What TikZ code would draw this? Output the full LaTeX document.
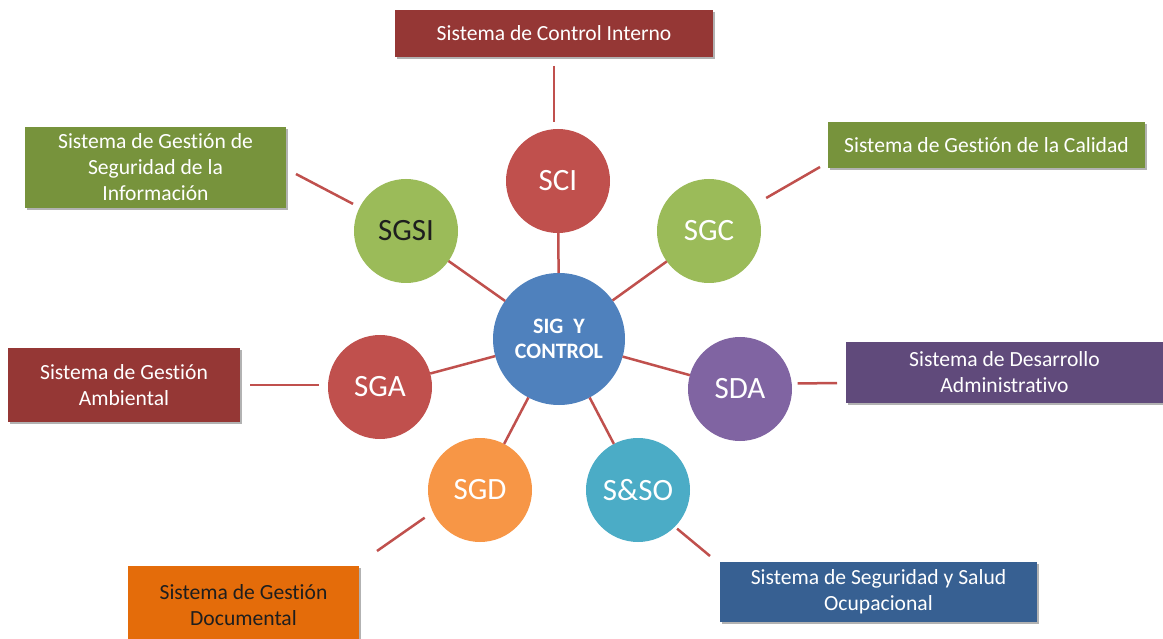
\documentclass[tikz,border=0pt]{standalone}
\usepackage{fontspec}
\setmainfont{Carlito}[Ligatures={NoCommon,NoContextual},Contextuals=NoAlternate]
\usetikzlibrary{shadows}

\definecolor{cRed}{HTML}{C0504D}
\definecolor{cGreen}{HTML}{9BBB59}
\definecolor{cPurple}{HTML}{8064A2}
\definecolor{cAqua}{HTML}{4BACC6}
\definecolor{cOrange}{HTML}{F79646}
\definecolor{cBlue}{HTML}{4F81BD}
\definecolor{dRed}{HTML}{953735}
\definecolor{dGreen}{HTML}{77933C}
\definecolor{dPurple}{HTML}{604A7B}
\definecolor{dBlue}{HTML}{376092}
\definecolor{dOrange}{HTML}{E46C0A}
\definecolor{inkDark}{HTML}{1E1E1E}

\begin{document}
\begin{tikzpicture}[x=1pt,y=-1pt,
  hub/.style={circle, fill=#1, minimum size=104pt, inner sep=0pt, outer sep=0pt,
    text=white, font=\fontsize{31}{36}\selectfont},
  panel/.style={rectangle, fill=#1, inner sep=0pt, outer sep=0pt, text=white,
    align=center, font=\fontsize{21.6}{26}\selectfont,
    drop shadow={shadow xshift=2pt, shadow yshift=-2pt, opacity=0.3, fill=black}},
  link/.style={draw=cRed, line width=2.5pt}]

\path[fill=white, use as bounding box] (0,0) rectangle (1163,639);

\begin{scope}
\clip (0,0) rectangle (1163,639);

% central circle and the seven systems around it
\node[hub=cBlue, minimum size=132pt, align=center,
      font=\bfseries\fontsize{22}{25}\selectfont] (core) at (559,339) {SIG\ \ Y\\CONTROL};
\node[hub=cRed]    (sci)  at (558,181) {SCI};
\node[hub=cGreen]  (sgc)  at (709,231) {SGC};
\node[hub=cGreen, text=inkDark] (sgsi) at (406,231) {SGSI};
\node[hub=cRed]    (sga)  at (380,387) {SGA};
\node[hub=cPurple] (sda)  at (740,389) {SDA};
\node[hub=cOrange] (sgd)  at (480,490) {SGD};
\node[hub=cAqua]   (sso)  at (638,490) {S\&SO};

% labels of the systems
\node[panel=dRed, minimum width=318pt, minimum height=47pt] (scibox) at (554,33.5)
  {Sistema de Control Interno};
\node[panel=dGreen, minimum width=317pt, minimum height=46pt] (sgcbox) at (986.5,145)
  {Sistema de Gestión de la Calidad};
\node[panel=dGreen, minimum width=261pt, minimum height=81pt] (sgsibox) at (155.5,167.5)
  {Sistema de Gestión de\\Seguridad de la\\Información};
\node[panel=dPurple, minimum width=317pt, minimum height=61pt] (sdabox) at (1004.5,372.5)
  {Sistema de Desarrollo\\Administrativo};
\node[panel=dRed, minimum width=232pt, minimum height=74pt] (sgabox) at (124,385)
  {Sistema de Gestión\\Ambiental};
\node[panel=dBlue, minimum width=317pt, minimum height=60pt] (ssobox) at (878.5,592)
  {Sistema de Seguridad y Salud\\Ocupacional};
\node[panel=dOrange, text=inkDark, minimum width=231pt, minimum height=78pt] (sgdbox) at (243.5,605)
  {Sistema de Gestión\\Documental};
\end{scope}

% spokes from the centre
\draw[link] (core) -- (sci);
\draw[link] (core) -- (sgc);
\draw[link] (core) -- (sgsi);
\draw[link] (core) -- (sga);
\draw[link] (core) -- (sda);
\draw[link] (core) -- (sgd);
\draw[link] (core) -- (sso);

% short links between each circle and its label
\draw[link, shorten <=9pt, shorten >=7pt] (scibox.south) -- (scibox.south |- sci.north);
\draw[link, shorten <=14pt] (sgc.30) -- ([shift={(-8,-1)}]sgcbox.south west);
\draw[link, shorten <=7.5pt] (sgsi.153) -- ([shift={(10,6.5)}]sgsibox.east);
\draw[link, shorten <=6pt] (sda.6) -- ([shift={(-9,10.5)}]sdabox.west);
\draw[link, shorten <=10pt, shorten >=9pt] (sgabox.east) -- (sgabox.east -| sga.west);
\draw[link, shorten <=10pt] (sgd.205) -- ([shift={(18,-15)}]sgdbox.north east);
\draw[link, shorten <=3pt] (sso.-45) -- ([shift={(-10,-6)}]ssobox.north west);

\end{tikzpicture}
\end{document}
